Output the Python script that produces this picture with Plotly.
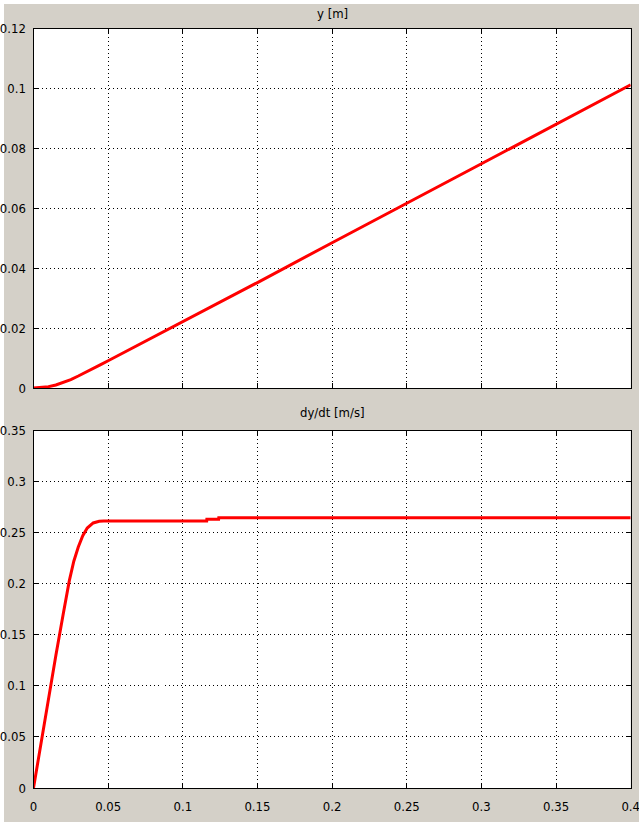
import plotly.graph_objects as go

# Time samples [s] and position y [m]
t_pos = [0, 0.005, 0.01, 0.015, 0.02, 0.025, 0.03, 0.035, 0.04, 0.045, 0.05,
         0.1, 0.15, 0.2, 0.25, 0.3, 0.35, 0.4]
y_pos = [0, 0.0001, 0.00045, 0.001, 0.0018, 0.0028, 0.0040, 0.0052, 0.0065,
         0.0078, 0.0091, 0.0221, 0.0352, 0.0485, 0.0617, 0.0749, 0.0881, 0.1012]

# Time samples [s] and velocity dy/dt [m/s]
t_vel = [0, 0.005, 0.01, 0.015, 0.02, 0.024, 0.027, 0.030, 0.033, 0.036,
         0.040, 0.044, 0.047, 0.116, 0.1161, 0.124, 0.1241, 0.4]
v_vel = [0, 0.044, 0.088, 0.130, 0.171, 0.203, 0.222, 0.236, 0.247, 0.2545,
         0.2595, 0.2612, 0.2615, 0.2615, 0.263, 0.263, 0.2645, 0.2645]

x_ticks = [0, 0.05, 0.1, 0.15, 0.2, 0.25, 0.3, 0.35, 0.4]
x_labels = ["0", "0.05", "0.1", "0.15", "0.2", "0.25", "0.3", "0.35", "0.4"]
y1_ticks = [0, 0.02, 0.04, 0.06, 0.08, 0.1, 0.12]
y1_labels = ["0", "0.02", "0.04", "0.06", "0.08", "0.1", "0.12"]
y2_ticks = [0, 0.05, 0.1, 0.15, 0.2, 0.25, 0.3, 0.35]
y2_labels = ["0", "0.05", "0.1", "0.15", "0.2", "0.25", "0.3", "0.35"]

W, H = 639, 822
BG = "#d4d0c8"
FONT = dict(family="DejaVu Sans Condensed, Liberation Sans Narrow, Liberation Sans, Arial",
            size=13, color="black")


def px_x(p):
    return p / W


def px_y(p):
    return 1 - p / H


fig = go.Figure()
fig.add_trace(go.Scatter(x=t_pos, y=y_pos, mode="lines", xaxis="x", yaxis="y",
                         line=dict(color="#ff0000", width=3), showlegend=False))
fig.add_trace(go.Scatter(x=t_vel, y=v_vel, mode="lines", xaxis="x2", yaxis="y2",
                         line=dict(color="#ff0000", width=3), showlegend=False))

axis_common = dict(
    showline=True, linecolor="black", linewidth=1, mirror="ticks",
    ticks="inside", ticklen=5, tickcolor="black", tickwidth=1,
    showgrid=True, gridcolor="black", gridwidth=1, griddash="1px,3px",
    zeroline=False, tickfont=FONT, fixedrange=True,
    ticklabeloverflow="allow", automargin=False,
)

xd = [px_x(33.5), px_x(630.7)]
x_range = [0, 0.4 + 1e-9]
fig.update_layout(
    width=W, height=H,
    margin=dict(l=0, r=0, t=0, b=0, autoexpand=False),
    paper_bgcolor=BG, plot_bgcolor="white",
    font=FONT,
    xaxis=dict(domain=xd, range=x_range, tickvals=x_ticks, ticktext=[""] * len(x_ticks),
               anchor="y", **axis_common),
    yaxis=dict(domain=[px_y(388), px_y(28.5)], range=[0, 0.12], tickvals=y1_ticks,
               ticktext=y1_labels, anchor="x", ticklabelstandoff=4, **axis_common),
    xaxis2=dict(domain=xd, range=x_range, tickvals=x_ticks, ticktext=x_labels,
                anchor="y2", ticklabelstandoff=6, **axis_common),
    yaxis2=dict(domain=[px_y(788), px_y(430.5)], range=[0, 0.35], tickvals=y2_ticks,
                ticktext=y2_labels, anchor="x2", ticklabelstandoff=4, **axis_common),
    annotations=[
        dict(text="y [m]", x=0.5 * (xd[0] + xd[1]), y=px_y(14), xref="paper", yref="paper",
             showarrow=False, font=FONT, xanchor="center", yanchor="middle"),
        dict(text="dy/dt [m/s]", x=0.5 * (xd[0] + xd[1]), y=px_y(412), xref="paper", yref="paper",
             showarrow=False, font=FONT, xanchor="center", yanchor="middle"),
    ],
    shapes=[
        # thin white border along the top and left edges of the window
        dict(type="rect", xref="paper", yref="paper", x0=0, x1=px_x(4), y0=0, y1=1,
             fillcolor="white", line=dict(width=0), layer="below"),
        dict(type="rect", xref="paper", yref="paper", x0=0, x1=1, y0=px_y(4), y1=1,
             fillcolor="white", line=dict(width=0), layer="below"),
    ],
)

fig.write_html("out.html")
